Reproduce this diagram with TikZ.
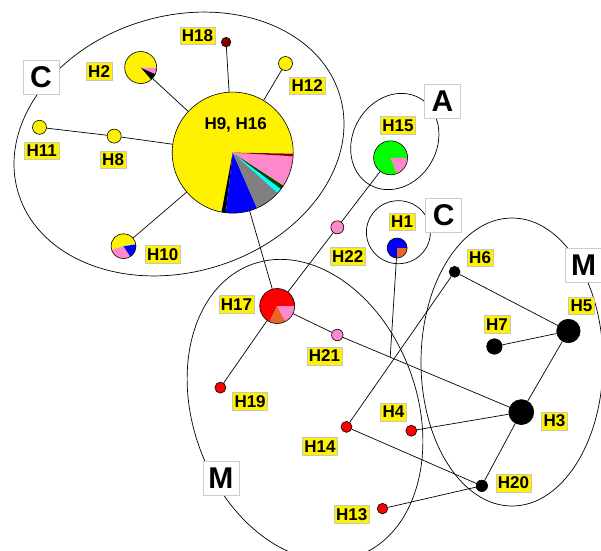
\documentclass[tikz,border=0pt]{standalone}
\usepackage{fontspec}
\setmainfont{Liberation Sans}
\usetikzlibrary{calc}
\definecolor{hpink}{RGB}{255,136,204}
\definecolor{horange}{RGB}{235,100,40}
\definecolor{hdred}{RGB}{128,0,0}
\definecolor{hdgreen}{RGB}{0,70,0}
\definecolor{hgreen}{RGB}{0,255,0}
\definecolor{hcyan}{RGB}{0,255,255}
\definecolor{hgray}{RGB}{128,128,128}
\newcommand{\pieslice}[5]{\fill[#5] (#1.center) -- ++(#3:#2pt) arc[start angle=#3, end angle=#4, radius=#2pt] -- cycle;}
\newcommand{\pieoutline}[2]{\draw[line width=0.6pt] (#1.center) circle[radius=#2pt];}
\tikzset{
  lbl/.style={fill=yellow, draw=gray!45, line width=0.4pt, inner xsep=2pt, inner ysep=0pt, minimum height=17.5pt, font=\fontsize{17}{19}\selectfont\bfseries},
  grp/.style={fill=white, draw=gray!40, line width=0.5pt, minimum width=36pt, minimum height=34pt, inner sep=0pt, font=\fontsize{30}{32}\selectfont\bfseries},
  hdot/.style={circle, draw=black, line width=0.6pt, inner sep=0pt, minimum size=#1},
  pienode/.style={circle, inner sep=0pt, minimum size=#1},
  edge/.style={line width=0.7pt},
  grpline/.style={line width=0.7pt}
}
\begin{document}
\begin{tikzpicture}[x=1pt,y=-1pt]
\clip (0,0) rectangle (601,550);
\fill[white] (0,0) rectangle (601,550);

% group ellipses
\draw[grpline, rotate around={17:(179,144)}] (179,144) ellipse[x radius=168pt, y radius=128pt];
\draw[grpline, rotate around={-30:(394.8,141.5)}] (394.8,141.5) ellipse[x radius=42pt, y radius=50pt];
\draw[grpline] (398.4,232.2) ellipse[x radius=32pt, y radius=31.5pt];
\draw[grpline] (512,362) ellipse[x radius=91pt, y radius=144pt];
\draw[grpline, rotate around={20:(305,410)}] (305,410) ellipse[x radius=112pt, y radius=155pt];

% group labels
\node[grp] (gC1) at (41,77) {C};
\node[grp] (gA) at (442.5,101.2) {A};
\node[grp] (gC2) at (443.6,214.8) {C};
\node[grp] (gM1) at (220.8,478.6) {M};
\node[grp] (gM2) at (583.5,265.5) {M};

% pie nodes
\node[pienode=121pt] (H9) at (232.7,152.6) {};
\node[pienode=32pt] (H2) at (140.7,67.5) {};
\node[pienode=25pt] (H10) at (123.5,246.2) {};
\node[pienode=34pt] (H15) at (390.6,157.8) {};
\node[pienode=20pt] (H1) at (397.1,248) {};
\node[pienode=35pt] (H17) at (277.2,306) {};

% dot nodes
\node[hdot=9.5pt, fill=hdred] (H18) at (226.1,42.1) {};
\node[hdot=14pt, fill=yellow] (H12) at (285.5,63.5) {};
\node[hdot=14pt, fill=yellow] (H11) at (39.5,127.3) {};
\node[hdot=14pt, fill=yellow] (H8) at (114.2,136.1) {};
\node[hdot=13pt, fill=hpink] (H22) at (337.3,227.3) {};
\node[hdot=11.5pt, fill=hpink] (H21) at (337.3,335) {};
\node[hdot=11pt, fill=red] (H19) at (220.4,387.6) {};
\node[hdot=11pt, fill=black] (H6) at (454.6,271.8) {};
\node[hdot=23.5pt, fill=black] (H5) at (568.4,331) {};
\node[hdot=15.5pt, fill=black] (H7) at (494.4,346.5) {};
\node[hdot=25pt, fill=black] (H3) at (521.3,412.1) {};
\node[hdot=11pt, fill=red] (H4) at (411.3,430.7) {};
\node[hdot=11pt, fill=red] (H14) at (346.5,426.9) {};
\node[hdot=11.5pt, fill=black] (H20) at (481.8,485.8) {};
\node[hdot=10.5pt, fill=red] (H13) at (382.5,508.6) {};

\coordinate (j) at ($(H21.center)!0.2875!(H3.center)$);

% edges
\draw[edge] (H18) -- (H9);
\draw[edge] (H12) -- (H9);
\draw[edge] (H2) -- (H9);
\draw[edge] (H8) -- (H9);
\draw[edge] (H11) -- (H8);
\draw[edge] (H10) -- (H9);
\draw[edge] (H9) -- (H17);
\draw[edge] (H15) -- (H22);
\draw[edge] (H22) -- (H17);
\draw[edge] (H1) -- (j);
\draw[edge] (H17) -- (H21);
\draw[edge] (H21) -- (H3);
\draw[edge] (H17) -- (H19);
\draw[edge] (H6) -- (H14);
\draw[edge] (H6) -- (H5);
\draw[edge] (H7) -- (H5);
\draw[edge] (H5) -- (H3);
\draw[edge] (H3) -- (H4);
\draw[edge] (H3) -- (H20);
\draw[edge] (H14) -- (H20);
\draw[edge] (H20) -- (H13);

% big pie H9, H16
\pieslice{H9}{60.5}{-1}{259.3}{yellow}
\pieslice{H9}{60.5}{-100.7}{-96.5}{black}
\pieslice{H9}{60.5}{-96.5}{-66.4}{blue}
\pieslice{H9}{60.5}{-66.4}{-41.8}{hgray}
\pieslice{H9}{60.5}{-41.8}{-37}{hcyan}
\pieslice{H9}{60.5}{-37}{-33}{hdgreen}
\pieslice{H9}{60.5}{-33}{-3.5}{hpink}
\pieslice{H9}{60.5}{-3.5}{-1}{hdred}
\pieoutline{H9}{60.5}
% H2
\pieslice{H2}{16}{0}{311}{yellow}
\pieslice{H2}{16}{-49}{-24}{black}
\pieslice{H2}{16}{-24}{0}{hpink}
\pieoutline{H2}{16}
% H10
\pieslice{H10}{12.5}{8}{197}{yellow}
\pieslice{H10}{12.5}{197}{303}{hpink}
\pieslice{H10}{12.5}{303}{368}{blue}
\pieoutline{H10}{12.5}
% H15
\pieslice{H15}{17}{0}{292}{hgreen}
\pieslice{H15}{17}{-68}{0}{hpink}
\pieoutline{H15}{17}
% H1
\pieslice{H1}{10}{0}{270}{blue}
\pieslice{H1}{10}{-90}{0}{horange}
\pieoutline{H1}{10}
% H17
\pieslice{H17}{17.5}{0}{244}{red}
\pieslice{H17}{17.5}{-116}{-62}{horange}
\pieslice{H17}{17.5}{-62}{0}{hpink}
\pieoutline{H17}{17.5}

% labels
\node[font=\fontsize{17}{19}\selectfont\bfseries] (t9) at (235.7,124.5) {H9, H16};
\node[lbl] (l18) at (197.4,35.8) {H18};
\node[lbl] (l2) at (99.1,71.1) {H2};
\node[lbl] (l12) at (307.2,85.6) {H12};
\node[lbl] (l11) at (41.8,150.9) {H11};
\node[lbl] (l8) at (113.1,159.8) {H8};
\node[lbl] (l10) at (162.7,254.3) {H10};
\node[lbl] (l15) at (397.9,125.4) {H15};
\node[lbl] (l1) at (402.1,221.7) {H1};
\node[lbl] (l22) at (347.8,256.4) {H22};
\node[lbl] (l17) at (236.5,304.3) {H17};
\node[lbl] (l21) at (324.4,356) {H21};
\node[lbl] (l19) at (250.1,401.2) {H19};
\node[lbl] (l6) at (480.1,257.7) {H6};
\node[lbl] (l5) at (581.5,305.7) {H5};
\node[lbl] (l7) at (497,324.4) {H7};
\node[lbl] (l3) at (554.4,421) {H3};
\node[lbl] (l4) at (393.5,412.1) {H4};
\node[lbl] (l14) at (319.9,446.2) {H14};
\node[lbl] (l20) at (513.4,483) {H20};
\node[lbl] (l13) at (351.8,514.2) {H13};
\end{tikzpicture}
\end{document}
